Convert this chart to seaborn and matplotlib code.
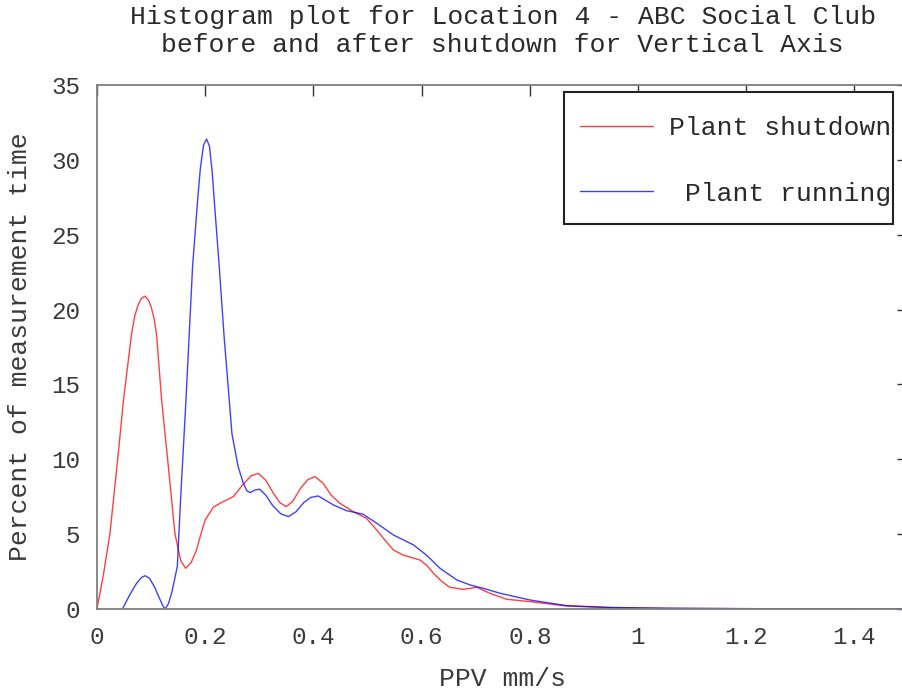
import pandas as pd
import matplotlib
matplotlib.use("Agg")
import matplotlib.pyplot as plt
from matplotlib.lines import Line2D
from matplotlib.patches import Rectangle
import seaborn as sns

# values
shutdown_x = [0.000, 0.012, 0.024, 0.040, 0.049, 0.064, 0.070, 0.076, 0.082, 0.089,
              0.095, 0.100, 0.105, 0.110, 0.1195, 0.132, 0.144, 0.155, 0.164, 0.174,
              0.184, 0.192, 0.200, 0.215, 0.233, 0.252, 0.269, 0.285, 0.298, 0.312,
              0.325, 0.338, 0.350, 0.362, 0.377, 0.390, 0.403, 0.418, 0.433, 0.449,
              0.474, 0.498, 0.517, 0.530, 0.548, 0.566, 0.597, 0.610, 0.622, 0.637,
              0.652, 0.677, 0.702, 0.726, 0.757, 0.800, 0.868, 0.950, 1.050, 1.200,
              1.350, 1.500]
shutdown_y = [0.0, 2.3, 5.05, 10.6, 13.96, 18.4, 19.6, 20.3, 20.75, 20.9,
              20.65, 20.2, 19.5, 18.4, 13.96, 9.5, 5.05, 3.2, 2.72, 3.1,
              3.94, 5.0, 5.95, 6.8, 7.17, 7.5, 8.28, 8.9, 9.06, 8.6,
              7.8, 7.1, 6.84, 7.2, 8.1, 8.65, 8.84, 8.4, 7.6, 7.06,
              6.5, 6.06, 5.28, 4.7, 3.94, 3.6, 3.27, 2.9, 2.38, 1.85,
              1.45, 1.31, 1.45, 1.05, 0.65, 0.49, 0.2, 0.08, 0.04, 0.02,
              0.01, 0.0]

running_x = [0.047, 0.060, 0.072, 0.082, 0.089, 0.097, 0.106, 0.115, 0.122, 0.126,
             0.132, 0.138, 0.1485, 0.1545, 0.1645, 0.1767, 0.186, 0.191, 0.197, 0.2027,
             0.208, 0.213, 0.2168, 0.226, 0.235, 0.2445, 0.2495, 0.261, 0.2705, 0.277,
             0.283, 0.292, 0.301, 0.312, 0.325, 0.340, 0.354, 0.368, 0.382, 0.395,
             0.409, 0.437, 0.461, 0.492, 0.517, 0.548, 0.585, 0.609, 0.634, 0.665,
             0.690, 0.714, 0.745, 0.800, 0.868, 0.950, 1.050, 1.200, 1.350, 1.500]
running_y = [0.0, 0.9, 1.65, 2.1, 2.22, 2.05, 1.5, 0.75, 0.2, 0.0,
             0.35, 1.05, 2.83, 7.28, 13.96, 22.87, 27.3, 29.4, 31.0, 31.4,
             30.9, 29.2, 27.3, 22.87, 18.2, 13.96, 11.7, 9.5, 8.4, 7.9,
             7.77, 7.95, 8.0, 7.6, 6.9, 6.35, 6.17, 6.5, 7.1, 7.45,
             7.55, 6.95, 6.57, 6.33, 5.73, 4.94, 4.28, 3.6, 2.72, 1.94,
             1.6, 1.38, 1.05, 0.6, 0.22, 0.1, 0.05, 0.02, 0.01, 0.0]

labels = ["Plant shutdown", " Plant running"]
colors = ["#ff0000", "#0000ff"]

sns.set_style("white")
plt.rcParams["font.family"] = ["Liberation Mono", "DejaVu Sans Mono"]

df = pd.concat([
    pd.DataFrame({"x": shutdown_x, "y": shutdown_y, "series": labels[0]}),
    pd.DataFrame({"x": running_x, "y": running_y, "series": labels[1]}),
])

fig = plt.figure(figsize=(9.02, 6.92), dpi=100)
ax = fig.add_axes([0.1075, 0.12, 0.8997, 0.757])

sns.lineplot(data=df, x="x", y="y", hue="series", palette=colors, sort=False,
             estimator=None, linewidth=1.0, alpha=0.75, legend=False, ax=ax)

ax.set_xlim(0, 1.5)
ax.set_ylim(0, 35)
ax.set_xticks([0, 0.2, 0.4, 0.6, 0.8, 1, 1.2, 1.4])
ax.set_xticklabels(["0", "0.2", "0.4", "0.6", "0.8", "1", "1.2", "1.4"])
ax.set_yticks(range(0, 36, 5))

for s in ax.spines.values():
    s.set_visible(True)
    s.set_color("#7f7f7f")
    s.set_linewidth(1.3)
ax.tick_params(direction="in", length=8, width=1.0, color="#333333",
               top=True, right=True, labelsize=17.5, labelcolor="#3a3a3a", pad=12)

ax.set_xlabel("PPV mm/s", fontsize=19, color="#3a3a3a", labelpad=13)
ax.set_ylabel("Percent of measurement time", fontsize=19, color="#3a3a3a", labelpad=14)
ax.set_title("Histogram plot for Location 4 - ABC Social Club\n"
             "before and after shutdown for Vertical Axis",
             fontsize=19, color="#2a2a2a", pad=24, linespacing=1.2)

# legend frame drawn separately so the text can reach the right border
fig.patches.append(Rectangle((0.6253, 0.6763), 0.3647, 0.1908, transform=fig.transFigure,
                             fill=True, facecolor="white", edgecolor="#222222",
                             linewidth=1.5, zorder=5))
handles = [Line2D([], [], color=c, lw=1.0, alpha=0.75) for c in colors]
leg = fig.legend(handles, labels, loc="upper left", bbox_to_anchor=(0.643, 0.8324),
                 fontsize=19, frameon=False, labelspacing=1.58, handlelength=2.77,
                 handletextpad=0.6, borderpad=0, borderaxespad=0)
leg.set_zorder(6)
for t in leg.get_texts():
    t.set_color("#2a2a2a")

fig.savefig("out.png", dpi=100)
